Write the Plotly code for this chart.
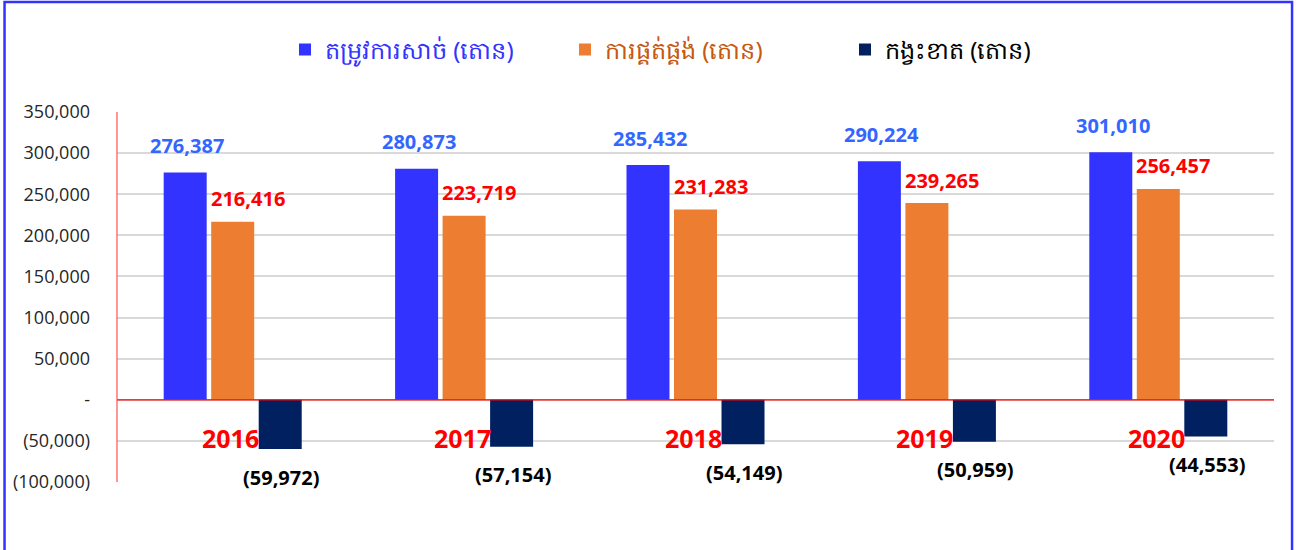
import plotly.graph_objects as go

years = ["2016", "2017", "2018", "2019", "2020"]
demand = [276387, 280873, 285432, 290224, 301010]
supply = [216416, 223719, 231283, 239265, 256457]
deficit = [-59972, -57154, -54149, -50959, -44553]

names = ["តម្រូវការសាច់ (តោន)", "ការផ្គត់ផ្គង់ (តោន)", "កង្វះខាត (តោន)"]
colors = ["#3333FF", "#ED7D31", "#002060"]
name_colors = ["#3333FF", "#C65911", "#000000"]

yticks = [-100000, -50000, 0, 50000, 100000, 150000, 200000, 250000, 300000, 350000]


def fmt(v):
    if v == 0:
        return "-"
    s = f"{abs(v):,}"
    return f"({s})" if v < 0 else s


FONT = "Open Sans"
fig = go.Figure()
for vals, nm, c, nc in zip([demand, supply, deficit], names, colors, name_colors):
    fig.add_trace(go.Bar(
        x=years, y=vals, marker=dict(color=c, line=dict(width=0)),
        name=f"<span style='color:{nc}'>{nm}</span>",
    ))

bargap = 0.384
slot = (1 - bargap) / 3
ann = []
label_cfg = [
    (demand, "#3366FF", 2, 27, -1),
    (supply, "#FF0000", 15, 23, 0),
    (deficit, "#000000", 1, -28, 1),
]
for vals, col, xs, ys, j in label_cfg:
    for i, v in enumerate(vals):
        ann.append(dict(
            x=i + j * slot, y=v, xref="x", yref="y", text=fmt(v),
            showarrow=False, xshift=xs, yshift=ys,
            font=dict(family=FONT, size=20, color=col, weight="bold"),
        ))
for i, yr in enumerate(years):
    ann.append(dict(
        x=i, y=0, xref="x", yref="y", text=yr, showarrow=False, yshift=-38, xshift=-2,
        font=dict(family=FONT, size=25, color="#FF0000", weight="bold"),
    ))

fig.update_layout(
    width=1298, height=550,
    margin=dict(l=117, r=24, t=112, b=68),
    paper_bgcolor="white", plot_bgcolor="white",
    barmode="group", bargap=bargap, bargroupgap=0.095,
    font=dict(family=FONT, color="#262626"),
    legend=dict(orientation="h", x=0.1452, xanchor="left", y=1.168, yanchor="middle",
                font=dict(family="Noto Sans, sans-serif", size=24), itemwidth=30,
                entrywidth=235, entrywidthmode="pixels",
                bgcolor="rgba(0,0,0,0)"),
    annotations=ann,
    shapes=[
        dict(type="rect", xref="paper", yref="paper",
             x0=-0.0972, x1=1.0156, y0=-0.25, y1=1.297,
             line=dict(color="#3333FF", width=2.5)),
        dict(type="line", xref="paper", yref="y", x0=0, x1=1, y0=0, y1=0,
             line=dict(color="#FF0000", width=1.2), layer="above"),
        dict(type="line", xref="paper", yref="y", x0=0, x1=0, y0=-100000, y1=350000,
             line=dict(color="#FF5050", width=1.2), layer="above"),
    ],
)
fig.update_xaxes(showticklabels=False, showgrid=False, zeroline=False, showline=False)
fig.update_yaxes(
    range=[-100000, 350000], tickvals=yticks, ticktext=[fmt(v) for v in yticks],
    showgrid=True, gridcolor="#D9D9D9", gridwidth=1.5,
    zeroline=False, showline=False,
    tickfont=dict(family=FONT, size=18, color="#262626"), ticklabelstandoff=26,
)
fig.write_html("out.html", post_script="document.body.style.margin='0px';",
               config={"displayModeBar": False})
